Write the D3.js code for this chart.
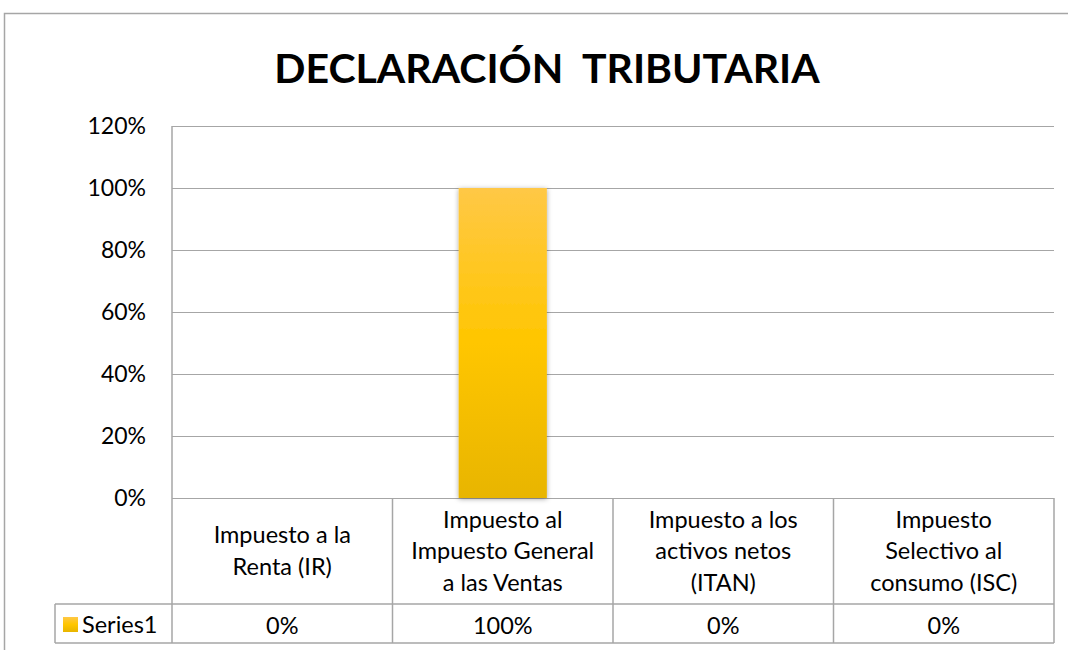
<!DOCTYPE html>
<html>
<head>
<meta charset="utf-8">
<script src="https://cdn.jsdelivr.net/npm/d3@7"></script>
<style>
  html, body { margin: 0; padding: 0; background: #fff; }
  svg { display: block; }
  text { font-family: Lato, "Open Sans", sans-serif; fill: #000; }
</style>
</head>
<body>
<svg id="chart" width="1069" height="650"></svg>
<script>
// ---- data ----
const title = "DECLARACIÓN  TRIBUTARIA";
const categories = [
  "Impuesto a la Renta (IR)",
  "Impuesto al Impuesto General a las Ventas",
  "Impuesto a los activos netos (ITAN)",
  "Impuesto Selectivo al consumo (ISC)"
];
const categoryLines = [
  ["Impuesto a la", "Renta (IR)"],
  ["Impuesto al", "Impuesto General", "a las Ventas"],
  ["Impuesto a los", "activos netos", "(ITAN)"],
  ["Impuesto", "Selectivo al", "consumo (ISC)"]
];
const seriesName = "Series1";
const values = [0, 1, 0, 0];
const yTicks = [0, 0.2, 0.4, 0.6, 0.8, 1.0, 1.2];

// ---- layout ----
const svg = d3.select("#chart");
const L = 172, R = 1054, T = 126, B = 498;
const rowMid = 604, rowBot = 643, legendLeft = 55;
const gridColor = "#a6a6a6";
const fs = 23.5;

const defs = svg.append("defs");
const grad = defs.append("linearGradient").attr("id", "barGrad")
  .attr("x1", 0).attr("y1", 0).attr("x2", 0).attr("y2", 1);
grad.append("stop").attr("offset", "0%").attr("stop-color", "#ffc846");
grad.append("stop").attr("offset", "50%").attr("stop-color", "#ffc600");
grad.append("stop").attr("offset", "100%").attr("stop-color", "#e8b500");
const filt = defs.append("filter").attr("id", "shadow")
  .attr("x", "-20%").attr("y", "-5%").attr("width", "140%").attr("height", "110%");
filt.append("feDropShadow").attr("dx", 0).attr("dy", 1).attr("stdDeviation", 2.5)
  .attr("flood-color", "#000").attr("flood-opacity", 0.35);

// outer border
svg.append("path").attr("d", "M4.5,650 L4.5,13.5 L1068,13.5")
  .attr("fill", "none").attr("stroke", gridColor).attr("stroke-width", 1.5);

// title
svg.append("text").attr("x", 547).attr("y", 83)
  .attr("text-anchor", "middle").attr("font-weight", "bold")
  .attr("font-size", 41).style("white-space", "pre").text(title);

const x = d3.scaleBand().domain(categories).range([L, R]).padding(0);
const xBar = d3.scaleBand().domain(categories).range([L, R]).paddingInner(0.6).paddingOuter(0.3);
const y = d3.scaleLinear().domain([0, 1.2]).range([B, T]);

// gridlines
svg.append("g").selectAll("line").data(yTicks).join("line")
  .attr("x1", L).attr("x2", R)
  .attr("y1", d => Math.round(y(d)) + 0.5).attr("y2", d => Math.round(y(d)) + 0.5)
  .attr("stroke", gridColor).attr("stroke-width", 1.2);

// y axis labels
const yAxis = d3.axisLeft(y).tickValues(yTicks).tickFormat(d3.format(".0%")).tickSize(0).tickPadding(26);
const yg = svg.append("g").attr("transform", `translate(${L},0)`).call(yAxis);
yg.select(".domain").remove();
yg.selectAll("text").attr("font-size", 23).attr("font-family", "Lato, sans-serif").attr("fill", "#000");

// bars
svg.append("g").selectAll("rect").data(values).join("rect")
  .attr("x", (d, i) => xBar(categories[i]))
  .attr("width", xBar.bandwidth())
  .attr("y", d => y(d))
  .attr("height", d => B - y(d))
  .attr("fill", "url(#barGrad)")
  .attr("filter", "url(#shadow)")
  .style("display", d => d > 0 ? null : "none");

// vertical axis line + table
const tg = svg.append("g").attr("stroke", gridColor).attr("stroke-width", 1.5).attr("fill", "none");
tg.append("line").attr("x1", L).attr("x2", L).attr("y1", T).attr("y2", rowBot);
categories.forEach((c, i) => {
  const xe = x(c) + x.bandwidth();
  tg.append("line").attr("x1", xe).attr("x2", xe).attr("y1", B).attr("y2", rowBot);
});
tg.append("line").attr("x1", legendLeft).attr("x2", R).attr("y1", rowMid).attr("y2", rowMid);
tg.append("line").attr("x1", legendLeft).attr("x2", R).attr("y1", rowBot).attr("y2", rowBot);
tg.append("line").attr("x1", legendLeft).attr("x2", legendLeft).attr("y1", rowMid).attr("y2", rowBot);

// category labels
const lh = 31.5;
categories.forEach((c, i) => {
  const lines = categoryLines[i];
  const cx = x(c) + x.bandwidth() / 2;
  const mid = (B + rowMid) / 2;
  const t = svg.append("text").attr("text-anchor", "middle").attr("font-size", fs);
  lines.forEach((ln, j) => {
    t.append("tspan").attr("x", cx)
      .attr("y", mid + (j - (lines.length - 1) / 2) * lh)
      .attr("dy", "0.35em").text(ln);
  });
});

// values row
const fmt = d3.format(".0%");
svg.append("g").selectAll("text").data(values).join("text")
  .attr("x", (d, i) => x(categories[i]) + x.bandwidth() / 2)
  .attr("y", (rowMid + rowBot) / 2 + 2).attr("dy", "0.35em")
  .attr("text-anchor", "middle").attr("font-size", fs)
  .text(d => fmt(d));

// legend key
svg.append("rect").attr("x", 63).attr("y", 617).attr("width", 15).attr("height", 15)
  .attr("fill", "url(#barGrad)");
svg.append("text").attr("x", 82).attr("y", (rowMid + rowBot) / 2 + 1).attr("dy", "0.35em")
  .attr("font-size", fs).text(seriesName);
</script>
</body>
</html>
